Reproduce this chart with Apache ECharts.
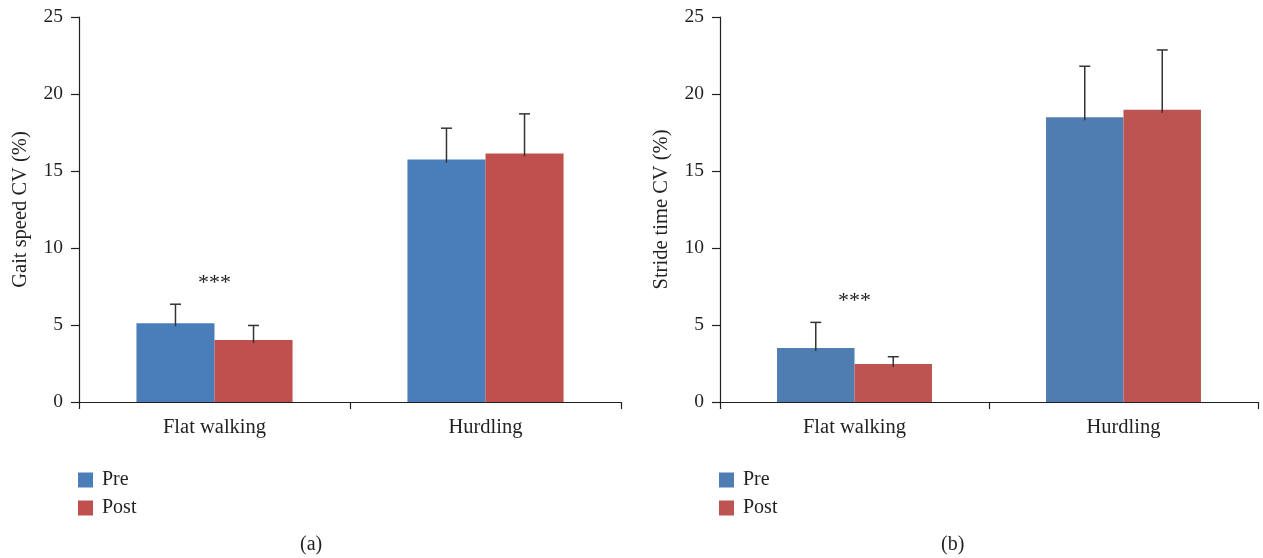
<!DOCTYPE html>
<html><head><meta charset="utf-8">
<script src="https://cdn.jsdelivr.net/npm/echarts@6/dist/echarts.min.js"></script>
<style>html,body{margin:0;padding:0;background:#fff}#c{width:1263px;height:558px}</style>
</head><body><div id="c"></div>
<script>
var categories = ['Flat walking', 'Hurdling'];
var seriesNames = ['Pre', 'Post'];
var yTicks = [0, 5, 10, 15, 20, 25];
// Panel (a): Gait speed CV (%)
var gaitPre = [5.12, 15.75];
var gaitPreSD = [1.23, 2.03];
var gaitPost = [4.02, 16.14];
var gaitPostSD = [0.95, 2.57];
var gaitSig = ['***', ''];
// Panel (b): Stride time CV (%)
var stridePre = [3.50, 18.49];
var stridePreSD = [1.67, 3.31];
var stridePost = [2.47, 18.97];
var stridePostSD = [0.47, 3.89];
var strideSig = ['***', ''];

var FONT = 'Liberation Serif';
var TXT = '#231f20';
var colA = ['#4A7EBB', '#C0504D'];
var colB = ['#4F7CB1', '#BC5452'];
var BARW = 0.288;

function errSeries(gi, means, sds, side) {
  return {
    type: 'custom', xAxisIndex: gi, yAxisIndex: gi, z: 5, silent: true,
    data: means.map(function (m, i) { return [i, m, m + sds[i]]; }),
    renderItem: function (params, api) {
      var c = api.value(0);
      var band = api.size([1, 0])[0];
      var off = side * BARW * band / 2;
      var p0 = api.coord([c, api.value(1)]);
      var p1 = api.coord([c, api.value(2)]);
      var x = p0[0] + off;
      var st = { stroke: '#333', lineWidth: 1.5 };
      return { type: 'group', children: [
        { type: 'line', shape: { x1: x, y1: p0[1] + 3, x2: x, y2: p1[1] }, style: st },
        { type: 'line', shape: { x1: x - 5.5, y1: p1[1], x2: x + 5.5, y2: p1[1] }, style: st }
      ]};
    }
  };
}
function sigSeries(gi, sig, preM, preS, postM, postS) {
  return {
    type: 'custom', xAxisIndex: gi, yAxisIndex: gi, z: 6, silent: true,
    data: sig.map(function (s, i) { return [i, Math.max(preM[i] + preS[i], postM[i] + postS[i])]; }),
    renderItem: function (params, api) {
      var s = sig[params.dataIndex];
      if (!s) return null;
      var p = api.coord([api.value(0), api.value(1)]);
      return { type: 'text', style: { text: s, x: p[0], y: p[1] - 21, align: 'center', verticalAlign: 'middle',
        font: '22px "' + FONT + '"', fill: TXT } };
    }
  };
}
function yAxis(gi, name) {
  return {
    type: 'value', gridIndex: gi, min: 0, max: 25, interval: 5,
    name: name, nameLocation: 'middle', nameGap: 48,
    nameTextStyle: { fontFamily: FONT, fontSize: 20.5, color: TXT },
    axisLine: { show: true, lineStyle: { color: TXT, width: 1.2 } },
    axisTick: { show: true, length: 8, lineStyle: { color: TXT, width: 1.2 } },
    splitLine: { show: false },
    axisLabel: { fontFamily: FONT, fontSize: 19.5, color: TXT, margin: 16,
      formatter: function (v) { return yTicks.indexOf(v) >= 0 ? String(v) : ''; } }
  };
}
function xAxis(gi) {
  return {
    type: 'category', gridIndex: gi, data: categories,
    axisLine: { show: true, lineStyle: { color: TXT, width: 1.2 } },
    axisTick: { show: true, length: 7, lineStyle: { color: TXT, width: 1.2 } },
    axisLabel: { fontFamily: FONT, fontSize: 20.5, color: TXT, margin: 15 }
  };
}
function bar(gi, name, data, color) {
  return { type: 'bar', name: name, xAxisIndex: gi, yAxisIndex: gi, data: data,
    barWidth: (BARW * 100) + '%', barGap: '0%', itemStyle: { color: color }, silent: true };
}
function legend(left, cols) {
  return { orient: 'vertical', left: left, top: 470, padding: 0, itemWidth: 15, itemHeight: 15, itemGap: 8,
    icon: 'rect', selectedMode: false,
    textStyle: { fontFamily: FONT, fontSize: 20, color: TXT, padding: [0, 0, 0, 4] },
    data: seriesNames.map(function (n, i) { return { name: n, itemStyle: { color: cols[i] } }; }) };
}

var chart = echarts.init(document.getElementById('c'), null, { renderer: 'canvas' });
chart.setOption({
  animation: false,
  grid: [
    { left: 79, top: 17, width: 542, height: 385 },
    { left: 720, top: 17, width: 538, height: 385 }
  ],
  xAxis: [xAxis(0), xAxis(1)],
  yAxis: [yAxis(0, 'Gait speed CV (%)'), yAxis(1, 'Stride time CV (%)')],
  legend: [legend(78, colA), legend(719, colB)],
  graphic: [
    { type: 'text', left: 300, top: 535, style: { text: '(a)', font: '20px "' + FONT + '"', fill: TXT } },
    { type: 'text', left: 941, top: 535, style: { text: '(b)', font: '20px "' + FONT + '"', fill: TXT } }
  ],
  series: [
    bar(0, 'Pre', gaitPre, colA[0]),
    bar(0, 'Post', gaitPost, colA[1]),
    bar(1, 'Pre', stridePre, colB[0]),
    bar(1, 'Post', stridePost, colB[1]),
    errSeries(0, gaitPre, gaitPreSD, -1),
    errSeries(0, gaitPost, gaitPostSD, 1),
    errSeries(1, stridePre, stridePreSD, -1),
    errSeries(1, stridePost, stridePostSD, 1),
    sigSeries(0, gaitSig, gaitPre, gaitPreSD, gaitPost, gaitPostSD),
    sigSeries(1, strideSig, stridePre, stridePreSD, stridePost, stridePostSD)
  ]
});
</script></body></html>
